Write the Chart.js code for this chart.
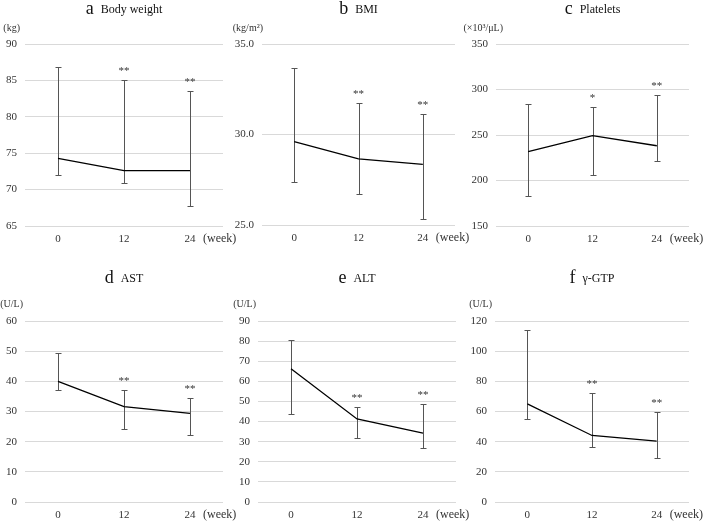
<!DOCTYPE html>
<html>
<head>
<meta charset="utf-8">
<script src="https://cdn.jsdelivr.net/npm/chart.js@4"></script>
<style>
  body { margin: 0; background: #fff; }
  #wrap { position: relative; width: 709px; height: 522px; }
  #wrap canvas { position: absolute; }
</style>
</head>
<body>
<div id="wrap"></div>
<script>
// data (median with upper / lower bars)
const weeks = ['0', '12', '24'];

const bwMean = [74.3, 72.6, 72.6];
const bwUpper = [86.9, 85.0, 83.5];
const bwLower = [72.0, 70.9, 67.8];
const bwSig = ['', '**', '**'];

const bmiMean = [29.6, 28.65, 28.35];
const bmiUpper = [33.66, 31.76, 31.12];
const bmiLower = [27.38, 26.7, 25.33];
const bmiSig = ['', '**', '**'];

const pltMean = [231.6, 249.2, 238.2];
const pltUpper = [284.6, 280.5, 294.5];
const pltLower = [182.7, 205.8, 221.6];
const pltSig = ['', '*', '**'];

const astMean = [40.0, 31.6, 29.4];
const astUpper = [49.5, 37.1, 34.4];
const astLower = [37.1, 24.1, 22.2];
const astSig = ['', '**', '**'];

const altMean = [66.3, 41.3, 34.2];
const altUpper = [80.7, 47.3, 48.7];
const altLower = [43.6, 32.0, 27.0];
const altSig = ['', '**', '**'];

const gtpMean = [65.1, 44.1, 40.4];
const gtpUpper = [114, 72.4, 59.6];
const gtpLower = [55, 36.6, 29.5];
const gtpSig = ['', '**', '**'];

const SERIF = "'Liberation Serif', 'Times New Roman', serif";
const TEXT = '#333';

// cell = canvas box on the page, area = plot box on the page
const panels = [
  { letter: 'a', name: 'Body weight', unit: '(kg)', mean: bwMean, upper: bwUpper, lower: bwLower, sig: bwSig,
    min: 65, max: 90, step: 5, dec: 0,
    cell: [0, 0, 236, 261], area: [25, 44, 223, 226], titleY: 9, unitY: 28, unitX: 20 },
  { letter: 'b', name: 'BMI', unit: '(kg/m²)', mean: bmiMean, upper: bmiUpper, lower: bmiLower, sig: bmiSig,
    min: 25, max: 35, step: 5, dec: 1,
    cell: [216, 0, 256, 261], area: [262, 44, 455, 225], titleY: 9, unitY: 28, unitX: 263 },
  { letter: 'c', name: 'Platelets', unit: '(×10³/μL)', mean: pltMean, upper: pltUpper, lower: pltLower, sig: pltSig,
    min: 150, max: 350, step: 50, dec: 0,
    cell: [450, 0, 259, 261], area: [496, 44, 689, 226], titleY: 9, unitY: 28, unitX: 503 },
  { letter: 'd', name: 'AST', unit: '(U/L)', mean: astMean, upper: astUpper, lower: astLower, sig: astSig,
    min: 0, max: 60, step: 10, dec: 0,
    cell: [0, 261, 236, 261], area: [25, 321, 223, 502], titleY: 278, unitY: 304, unitX: 23 },
  { letter: 'e', name: 'ALT', unit: '(U/L)', mean: altMean, upper: altUpper, lower: altLower, sig: altSig,
    min: 0, max: 90, step: 10, dec: 0,
    cell: [216, 261, 256, 261], area: [258, 321, 456, 502], titleY: 278, unitY: 304, unitX: 256 },
  { letter: 'f', name: 'γ-GTP', unit: '(U/L)', mean: gtpMean, upper: gtpUpper, lower: gtpLower, sig: gtpSig,
    min: 0, max: 120, step: 20, dec: 0,
    cell: [450, 261, 259, 261], area: [495, 321, 689, 502], titleY: 278, unitY: 304, unitX: 492 },
];

// error bars, asterisks, titles and axis notes
const decor = {
  id: 'decor',
  beforeDatasetsDraw(chart) {
    const p = chart.options.plugins.decor.panel;
    const { ctx, scales: { x, y } } = chart;
    ctx.save();
    ctx.strokeStyle = '#555';
    ctx.lineWidth = 1;
    p.mean.forEach((m, i) => {
      const px = Math.round(x.getPixelForValue(i)) + 0.5;
      const yt = Math.round(y.getPixelForValue(p.upper[i])) + 0.5;
      const yb = Math.round(y.getPixelForValue(p.lower[i])) + 0.5;
      ctx.beginPath();
      ctx.moveTo(px, yt); ctx.lineTo(px, yb);
      ctx.moveTo(px - 3, yt); ctx.lineTo(px + 3, yt);
      ctx.moveTo(px - 3, yb); ctx.lineTo(px + 3, yb);
      ctx.stroke();
    });
    ctx.restore();
  },
  afterDraw(chart) {
    const p = chart.options.plugins.decor.panel;
    const { ctx, chartArea, scales: { x, y } } = chart;
    const ox = p.cell[0], oy = p.cell[1];
    ctx.save();
    ctx.fillStyle = TEXT;

    // asterisks
    ctx.font = '11px ' + SERIF;
    ctx.textAlign = 'center';
    ctx.textBaseline = 'alphabetic';
    p.sig.forEach((s, i) => {
      if (!s) return;
      ctx.fillText(s, x.getPixelForValue(i), y.getPixelForValue(p.upper[i]) - 6);
    });

    // title
    ctx.fillStyle = '#111';
    const cx = (chartArea.left + chartArea.right) / 2;
    ctx.font = '18px ' + SERIF;
    const w1 = ctx.measureText(p.letter).width;
    ctx.font = '12px ' + SERIF;
    const w2 = ctx.measureText(p.name).width;
    const gap = 7;
    const tx = cx - (w1 + gap + w2) / 2;
    ctx.textAlign = 'left';
    ctx.textBaseline = 'middle';
    ctx.font = '18px ' + SERIF;
    ctx.fillText(p.letter, tx, p.titleY - oy);
    ctx.font = '12px ' + SERIF;
    ctx.fillText(p.name, tx + w1 + gap, p.titleY - oy + 1);

    // unit
    ctx.fillStyle = TEXT;
    ctx.font = '10px ' + SERIF;
    ctx.textAlign = 'right';
    ctx.fillText(p.unit, p.unitX - ox, p.unitY - oy);

    // (week)
    ctx.font = '12px ' + SERIF;
    ctx.textAlign = 'left';
    ctx.fillText('(week)', x.getPixelForValue(2) + 13, chartArea.bottom + 13);
    ctx.restore();
  },
};

const wrap = document.getElementById('wrap');
panels.forEach((p) => {
  const [cxp, cyp, cw, ch] = p.cell;
  const [l, t, r, b] = p.area;
  const canvas = document.createElement('canvas');
  canvas.width = cw;
  canvas.height = ch;
  canvas.style.left = cxp + 'px';
  canvas.style.top = cyp + 'px';
  wrap.appendChild(canvas);
  const xAxisH = 22;

  new Chart(canvas, {
    type: 'line',
    data: {
      labels: weeks,
      datasets: [
        {
          data: p.mean,
          borderColor: '#000',
          borderWidth: 1.3,
          pointRadius: 0,
          tension: 0,
          fill: false,
        },
      ],
    },
    options: {
      responsive: false,
      animation: false,
      events: [],
      layout: {
        padding: { left: 0, top: t - cyp, right: cxp + cw - r, bottom: cyp + ch - b - xAxisH },
      },
      plugins: {
        legend: { display: false },
        tooltip: { enabled: false },
        decor: { panel: p },
      },
      scales: {
        x: {
          offset: true,
          grid: { display: false, drawTicks: false },
          border: { display: false },
          ticks: { color: TEXT, font: { family: SERIF, size: 11 }, padding: 7, maxRotation: 0 },
          afterFit: (s) => { s.height = xAxisH; },
        },
        y: {
          min: p.min,
          max: p.max,
          grid: { color: '#d9d9d9', drawTicks: false },
          border: { display: false },
          ticks: {
            stepSize: p.step,
            color: TEXT,
            font: { family: SERIF, size: 11 },
            padding: 8,
            callback: (v) => Number(v).toFixed(p.dec),
          },
          afterFit: (s) => { s.width = l - cxp; },
        },
      },
    },
    plugins: [decor],
  });
});
</script>
</body>
</html>
